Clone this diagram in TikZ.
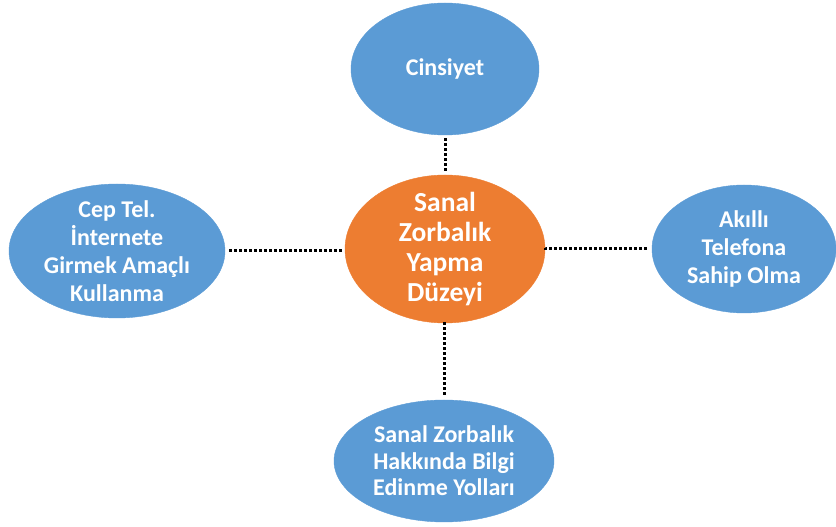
\documentclass[tikz,border=0pt]{standalone}
\usepackage{fontspec}
\setmainfont{Carlito}
\usetikzlibrary{shapes.geometric}
\definecolor{bluefill}{HTML}{5B9BD5}
\definecolor{orangefill}{HTML}{ED7D31}
\begin{document}
\begin{tikzpicture}[x=1pt,y=1pt,
  blueell/.style={ellipse, fill=bluefill, draw=bluefill, inner sep=-14pt, text=white,
     font=\fontsize{24}{28}\selectfont\bfseries, align=center},
  orangeell/.style={ellipse, fill=orangefill, draw=orangefill, inner sep=-14pt, text=white,
     font=\fontsize{27.5}{30}\selectfont\bfseries, align=center},
  link/.style={line width=3pt, dash pattern=on 2.6pt off 2.4pt, black}]
\useasboundingbox (0,0) rectangle (836,527);
\node[orangeell, minimum width=200pt, minimum height=148pt] (c) at (445,278) {Sanal\\Zorbalık\\Yapma\\Düzeyi};
\node[blueell, minimum width=188pt, minimum height=132pt] (t) at (445,458) {Cinsiyet};
\node[blueell, minimum width=216pt, minimum height=134pt] (l) at (117,276) {Cep Tel.\\İnternete\\Girmek Amaçlı\\Kullanma};
\node[blueell, minimum width=184pt, minimum height=128pt] (r) at (744,278) {Akıllı\\Telefona\\Sahip Olma};
\node[blueell, minimum width=220pt, minimum height=122pt, font=\fontsize{24}{26.5}\selectfont\bfseries] (b) at (444,66) {Sanal Zorbalık\\Hakkında Bilgi\\Edinme Yolları};
\draw[link, shorten <=3pt, shorten >=2pt] (t.south) -- (t.south |- c.north);
\draw[link, shorten <=4pt, shorten >=2pt] (l.east) -- (l.east -| c.west);
\draw[link, shorten <=1pt, shorten >=3pt] (c.east) -- (c.east |- r.west) -- (r.west);
\draw[link, shorten <=2pt, shorten >=3pt] (c.south) -- (c.south -| b.north) -- (b.north);
\end{tikzpicture}
\end{document}
